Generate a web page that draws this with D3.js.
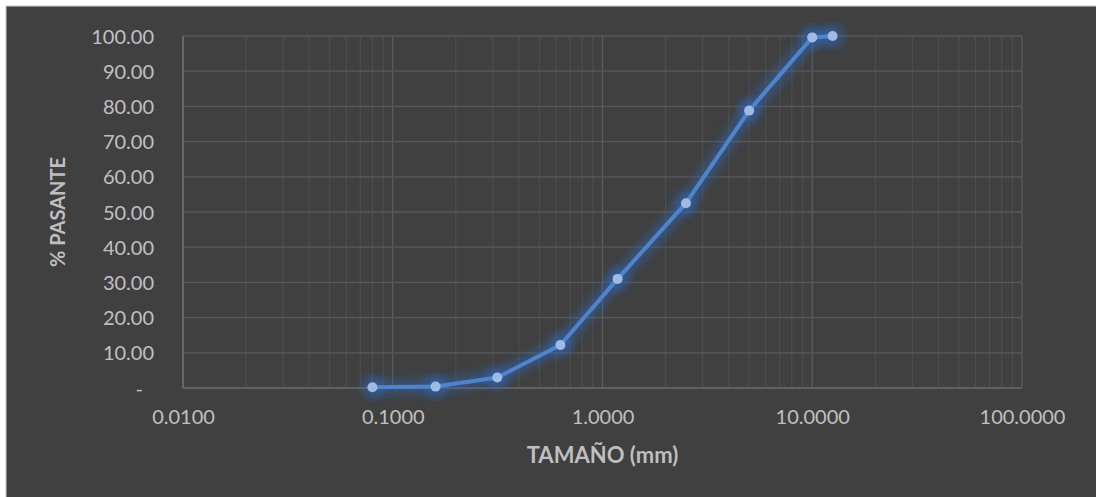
<!DOCTYPE html>
<head>
    <meta charset="utf-8">
    <script src="https://d3js.org/d3.v7.min.js"></script>
    <style>
        body { margin: 0; background: #fff; }
        svg { display: block; }
        .tick text { font-family: Lato, "Open Sans", sans-serif; font-size: 20px; fill: #c0c0c0; }
        .title { font-family: Lato, "Open Sans", sans-serif; font-weight: bold; fill: #bfbfbf; }
    </style>
</head>
<body>
<div id="chart"></div>
<script>
    // sieve sizes (mm) and % passing
    var sizes = [0.08, 0.16, 0.315, 0.63, 1.18, 2.5, 5, 10, 12.5];
    var passing = [0.2, 0.4, 3.0, 12.2, 31.0, 52.5, 78.8, 99.6, 100];
    var xTicks = [0.01, 0.1, 1, 10, 100];
    var yTicks = [0, 10, 20, 30, 40, 50, 60, 70, 80, 90, 100];

    var width = 1096, height = 497;
    var margin = { top: 36, right: 74, bottom: 109, left: 183 };

    var svg = d3.select("#chart").append("svg")
        .attr("width", width)
        .attr("height", height);

    // white frame at top/left, dark chart area
    svg.append("rect").attr("x", 6).attr("y", 6).attr("width", width).attr("height", height)
        .attr("fill", "#404040").attr("stroke", "#d0d0d0").attr("stroke-width", 1);

    var x = d3.scaleLog().domain([0.01, 100]).range([margin.left, width - margin.right]);
    var y = d3.scaleLinear().domain([0, 100]).range([height - margin.bottom, margin.top]);

    var defs = svg.append("defs");
    var glow = defs.append("filter").attr("id", "glow")
        .attr("x", "-20%").attr("y", "-20%").attr("width", "140%").attr("height", "140%");
    glow.append("feGaussianBlur").attr("stdDeviation", 5);

    // minor vertical grid (2..9 within each decade)
    var minor = [];
    for (var d = 0.01; d < 100; d *= 10) {
        for (var k = 2; k <= 9; k++) minor.push(d * k);
    }
    svg.append("g").selectAll("line").data(minor).join("line")
        .attr("x1", function (v) { return x(v); }).attr("x2", function (v) { return x(v); })
        .attr("y1", y(0)).attr("y2", y(100))
        .attr("stroke", "#4e4e4e").attr("stroke-width", 1);

    // major vertical grid
    svg.append("g").selectAll("line").data(xTicks).join("line")
        .attr("x1", function (v) { return x(v); }).attr("x2", function (v) { return x(v); })
        .attr("y1", y(0)).attr("y2", y(100))
        .attr("stroke", "#5c5c5c").attr("stroke-width", 1.3);

    // horizontal grid
    svg.append("g").selectAll("line").data(yTicks).join("line")
        .attr("x1", x(0.01)).attr("x2", x(100))
        .attr("y1", function (v) { return y(v); }).attr("y2", function (v) { return y(v); })
        .attr("stroke", "#595959").attr("stroke-width", 1.3);

    // axis lines
    svg.append("line").attr("x1", x(0.01)).attr("x2", x(0.01)).attr("y1", y(0)).attr("y2", y(100))
        .attr("stroke", "#6e6e6e").attr("stroke-width", 1.5);
    svg.append("line").attr("x1", x(0.01)).attr("x2", x(100)).attr("y1", y(0)).attr("y2", y(0))
        .attr("stroke", "#666").attr("stroke-width", 1.5);

    var yAxis = d3.axisLeft(y).tickValues(yTicks).tickSize(0).tickPadding(29)
        .tickFormat(function (v) { return v === 0 ? "-" : d3.format(".2f")(v); });
    var gy = svg.append("g").attr("transform", "translate(" + margin.left + ",0)").call(yAxis);
    gy.select(".domain").remove();
    gy.selectAll(".tick text").attr("dy", "0.35em")
        .attr("dx", function (v) { return v === 0 ? -11 : 0; });

    var xAxis = d3.axisBottom(x).tickValues(xTicks).tickSize(0).tickPadding(22)
        .tickFormat(d3.format(".4f"));
    var gx = svg.append("g").attr("transform", "translate(0," + y(0) + ")").call(xAxis);
    gx.select(".domain").remove();

    // axis titles
    svg.append("text").attr("class", "title").style("font-size", "22px")
        .attr("x", (x(0.01) + x(100)) / 2).attr("y", 463)
        .attr("text-anchor", "middle").text("TAMAÑO (mm)");
    svg.append("text").attr("class", "title").style("font-size", "20px")
        .attr("transform", "translate(65," + (y(0) + y(100)) / 2 + ") rotate(-90)")
        .attr("text-anchor", "middle").text("% PASANTE");

    var pts = sizes.map(function (s, i) { return [s, passing[i]]; });
    var line = d3.line().x(function (p) { return x(p[0]); }).y(function (p) { return y(p[1]); });

    // soft glow under the series
    svg.append("path").datum(pts).attr("d", line)
        .attr("fill", "none").attr("stroke", "#2c68c4").attr("stroke-width", 14)
        .attr("stroke-opacity", 0.45).attr("stroke-linejoin", "round")
        .attr("filter", "url(#glow)");
    svg.append("g").selectAll("circle").data(pts).join("circle")
        .attr("cx", function (p) { return x(p[0]); }).attr("cy", function (p) { return y(p[1]); })
        .attr("r", 11).attr("fill", "#2c68c4").attr("fill-opacity", 0.5)
        .attr("filter", "url(#glow)");

    svg.append("path").datum(pts).attr("d", line)
        .attr("fill", "none").attr("stroke", "#4d84cc").attr("stroke-width", 4)
        .attr("stroke-linejoin", "round");

    svg.append("g").selectAll("circle").data(pts).join("circle")
        .attr("cx", function (p) { return x(p[0]); }).attr("cy", function (p) { return y(p[1]); })
        .attr("r", 5).attr("fill", "#9fbbe3");
</script>
</body>
